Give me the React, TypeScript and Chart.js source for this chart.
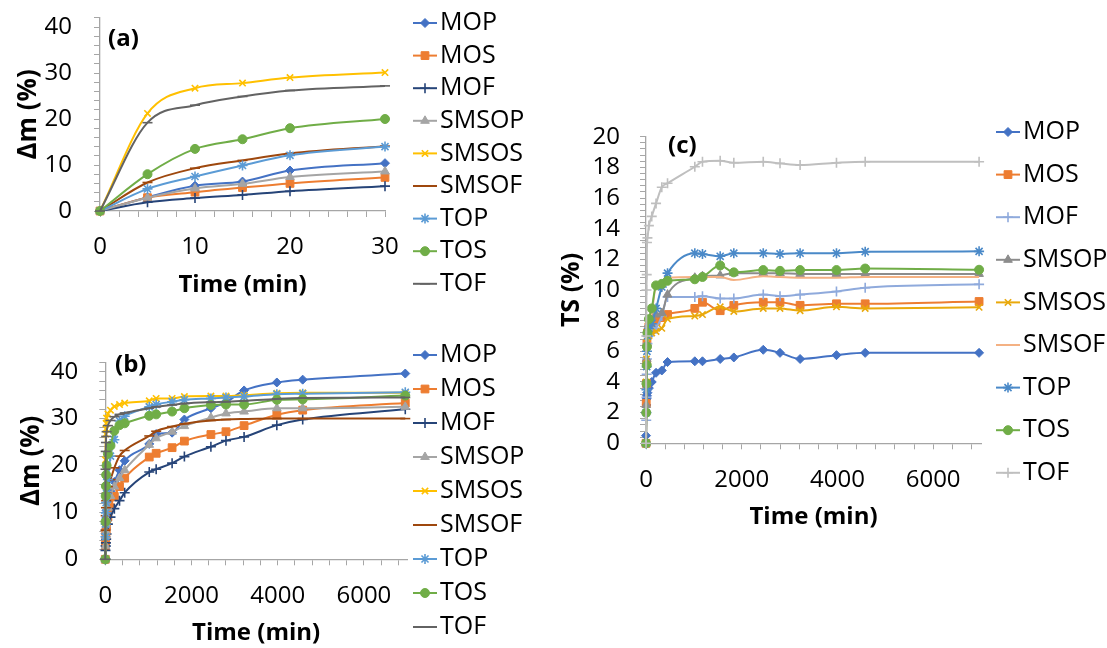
import React, { useEffect, useRef } from 'react';
import { Chart, registerables } from 'chart.js';
import { drawPoint } from 'chart.js/helpers';

Chart.register(...registerables);
Chart.defaults.font.family = '"Open Sans", sans-serif';

// ---------------- DATA ----------------
const seriesNames = ['MOP', 'MOS', 'MOF', 'SMSOP', 'SMSOS', 'SMSOF', 'TOP', 'TOS', 'TOF'];

// sampling times (min)
const timeMin = [0, 5, 10, 15, 20, 30, 60, 120, 210, 330, 450, 1020, 1180, 1550, 1835, 2450, 2800, 3220, 3980, 4580, 6960];

// mass change Δm (%) – panels (a) and (b)
const dmMOP = [0, 3.0, 5.5, 6.4, 8.8, 10.4, 12.5, 14.5, 16.5, 19.0, 21.0, 24.6, 26.7, 27.0, 29.8, 32.2, 33.5, 36.0, 37.7, 38.3, 39.6];
const dmMOS = [0, 2.9, 4.1, 5.1, 6.0, 7.3, 9.0, 11.0, 13.4, 15.5, 17.3, 21.8, 22.6, 23.8, 25.2, 26.6, 27.2, 28.5, 30.8, 31.8, 33.3];
const dmMOF = [0, 1.9, 2.8, 3.5, 4.3, 5.4, 7.5, 9.0, 10.8, 12.5, 14.2, 18.6, 19.2, 20.5, 21.9, 24.0, 25.3, 26.1, 28.6, 29.8, 32.0];
const dmSMSOP = [0, 2.9, 4.9, 5.9, 7.4, 8.6, 11.0, 13.5, 15.5, 17.3, 19.0, 24.4, 25.8, 27.2, 28.4, 30.2, 31.1, 31.5, 32.2, 32.2, 32.5];
const dmSMSOS = [0, 21.2, 26.7, 27.8, 29.0, 30.1, 31.0, 31.8, 32.6, 33.0, 33.3, 33.8, 34.3, 34.3, 34.7, 34.8, 34.8, 35.0, 35.4, 35.5, 35.5];
const dmSMSOF = [0, 6.2, 9.3, 11.0, 12.5, 14.1, 15.5, 17.0, 19.5, 22.0, 23.2, 26.3, 27.3, 28.3, 28.9, 29.6, 29.8, 29.9, 30.0, 30.0, 30.0];
const dmTOP = [0, 4.8, 7.5, 9.9, 12.1, 14.0, 17.0, 22.0, 25.5, 29.5, 30.5, 32.5, 33.0, 33.6, 34.0, 34.3, 34.5, 34.7, 35.2, 35.3, 35.6];
const dmTOS = [0, 8.0, 13.5, 15.6, 18.0, 20.0, 22.5, 24.2, 27.4, 28.6, 29.0, 30.6, 30.9, 31.5, 32.2, 32.9, 33.0, 33.0, 34.0, 34.1, 34.9];
const dmTOF = [0, 19.2, 23.0, 24.9, 26.2, 27.2, 28.5, 29.6, 30.4, 30.9, 31.2, 32.2, 32.5, 32.9, 33.2, 33.5, 33.6, 33.8, 34.2, 34.4, 34.5];

// thickness swelling TS (%) – panel (c)
const tsMOP = [0.5, 2.0, 2.5, 2.9, 3.1, 3.3, 3.6, 4.0, 4.6, 4.75, 5.3, 5.35, 5.35, 5.5, 5.6, 6.1, 5.9, 5.5, 5.75, 5.9, 5.9];
const tsMOS = [0, 2.6, 3.9, 5.2, 6.5, 7.2, 7.6, 7.9, 8.0, 8.2, 8.4, 8.8, 9.2, 8.65, 9.0, 9.2, 9.2, 9.0, 9.1, 9.1, 9.25];
const tsMOF = [0, 1.5, 3.0, 4.5, 5.5, 6.5, 7.0, 7.2, 7.5, 8.3, 9.55, 9.55, 9.6, 9.45, 9.45, 9.7, 9.6, 9.7, 9.9, 10.15, 10.37];
const tsSMSOP = [0, 2.5, 4.0, 5.5, 6.5, 7.2, 7.8, 8.2, 8.4, 8.5, 9.7, 10.8, 10.9, 10.95, 11.1, 11.1, 11.1, 11.05, 11.05, 11.05, 11.05];
const tsSMSOS = [0, 4.0, 5.5, 6.2, 6.6, 6.9, 7.0, 7.2, 7.3, 7.5, 8.1, 8.3, 8.4, 8.9, 8.6, 8.8, 8.8, 8.65, 8.9, 8.8, 8.87];
const tsSMSOF = [0, 1.5, 3.5, 5.0, 6.0, 6.8, 7.8, 8.5, 10.2, 10.0, 10.8, 10.85, 10.85, 10.85, 10.65, 10.9, 10.85, 10.8, 10.8, 10.85, 10.85];
const tsTOP = [0, 2.0, 3.5, 5.0, 6.0, 7.0, 7.5, 7.8, 8.8, 10.2, 11.1, 12.4, 12.35, 12.2, 12.4, 12.4, 12.35, 12.4, 12.4, 12.5, 12.52];
const tsTOS = [0, 2.0, 3.9, 5.1, 6.3, 7.2, 8.1, 8.8, 10.3, 10.4, 10.6, 10.7, 10.85, 11.6, 11.15, 11.3, 11.25, 11.3, 11.3, 11.4, 11.32];
const tsTOF = [0, 7.0, 10.0, 11.0, 13.1, 13.4, 14.2, 14.8, 15.65, 16.7, 16.96, 18.04, 18.37, 18.43, 18.3, 18.37, 18.26, 18.15, 18.3, 18.37, 18.37];

const dmSeries = [dmMOP, dmMOS, dmMOF, dmSMSOP, dmSMSOS, dmSMSOF, dmTOP, dmTOS, dmTOF];
const tsSeries = [tsMOP, tsMOS, tsMOF, tsSMSOP, tsSMSOS, tsSMSOF, tsTOP, tsTOS, tsTOF];

// ---------------- STYLES ----------------
const dmColors = ['#4472C4', '#ED7D31', '#264478', '#A5A5A5', '#FFC000', '#9E480E', '#5B9BD5', '#70AD47', '#636363'];
const tsColors = ['#4472C4', '#ED7D31', '#8FAADC', '#8C8C8C', '#E9A90C', '#F4B183', '#4A89C8', '#70AD47', '#BFBFBF'];
const dmMarkers = ['rectRot', 'rect', 'cross', 'triangle', 'crossRot', 'line', 'star', 'circle', 'line'];
const tsMarkers = ['rectRot', 'rect', 'cross', 'triangle', 'crossRot', 'none', 'star', 'circle', 'cross'];
const markerRadius: Record<string, number> = {
  rectRot: 4.5, rect: 5.5, cross: 5, triangle: 5, crossRot: 4.5, line: 5, star: 5, circle: 4.5, none: 0,
};
const strokeOnly = ['cross', 'crossRot', 'line', 'star'];
const AXIS_GRAY = '#A6A6A6';

type PanelSpec = {
  left: number; top: number; width: number; height: number;
  pad: { left: number; top: number; right: number; bottom: number };
  yWidth: number; xHeight: number;
  xMax: number; xStep: number; xMajor: number;
  yMax: number; yStep: number; yMajor: number;
  yTitle: string; yTitleSize: number; yTitlePad: number; yTickPad: number; xTitlePad: number; xTickPad: number;
  series: number[][]; colors: string[]; markers: string[];
  legend: { x: number; y0: number; dy: number };
  tag: { text: string; x: number; y: number };
};

const panels: PanelSpec[] = [
  {
    left: 0, top: 0, width: 560, height: 310,
    pad: { left: 0, top: 17.8, right: 175, bottom: 0 },
    yWidth: 100, xHeight: 99,
    xMax: 30, xStep: 2, xMajor: 10,
    yMax: 42, yStep: 2, yMajor: 10,
    yTitle: 'Δm (%)', yTitleSize: 26, yTitlePad: 13, yTickPad: 22, xTitlePad: 10, xTickPad: 16,
    series: dmSeries, colors: dmColors, markers: dmMarkers,
    legend: { x: 413, y0: 23, dy: 32.6 },
    tag: { text: '(a)', x: 108, y: 39 },
  },
  {
    left: 0, top: 320, width: 560, height: 328,
    pad: { left: 0, top: 42.3, right: 153, bottom: 0 },
    yWidth: 105.3, xHeight: 88.7,
    xMax: 7000, xStep: 400, xMajor: 2000,
    yMax: 42, yStep: 2, yMajor: 10,
    yTitle: 'Δm (%)', yTitleSize: 26, yTitlePad: 15.5, yTickPad: 21, xTitlePad: 0, xTickPad: 16,
    series: dmSeries, colors: dmColors, markers: dmMarkers,
    legend: { x: 413, y0: 35, dy: 34 },
    tag: { text: '(b)', x: 115, y: 45 },
  },
  {
    left: 540, top: 100, width: 567, height: 440,
    pad: { left: 0, top: 36.7, right: 126, bottom: 0 },
    yWidth: 106, xHeight: 96.7,
    xMax: 7000, xStep: 400, xMajor: 2000,
    yMax: 20, yStep: 0.4, yMajor: 2,
    yTitle: 'TS (%)', yTitleSize: 25, yTitlePad: 17, yTickPad: 20, xTitlePad: 8.6, xTickPad: 16,
    series: tsSeries, colors: tsColors, markers: tsMarkers,
    legend: { x: 456, y0: 32, dy: 42.6 },
    tag: { text: '(c)', x: 128, y: 46 },
  },
];

const isMajor = (v: number, major: number) => Math.abs(v / major - Math.round(v / major)) < 1e-6;

function overlayPlugin(p: PanelSpec) {
  return {
    id: 'excelOverlay',
    afterDraw(chart: any) {
      const ctx: CanvasRenderingContext2D = chart.ctx;
      ctx.save();
      // panel tag
      ctx.fillStyle = '#000';
      ctx.font = 'bold 24px "Open Sans", sans-serif';
      ctx.textBaseline = 'middle';
      ctx.textAlign = 'left';
      ctx.fillText(p.tag.text, p.tag.x, p.tag.y);
      // legend
      chart.data.datasets.forEach((ds: any, i: number) => {
        const y = p.legend.y0 + i * p.legend.dy;
        const x = p.legend.x;
        ctx.strokeStyle = ds.borderColor;
        ctx.lineWidth = 2;
        ctx.beginPath();
        ctx.moveTo(x, y);
        ctx.lineTo(x + 24, y);
        ctx.stroke();
        if (ds.pointRadius > 0) {
          ctx.fillStyle = ds.pointBackgroundColor;
          ctx.strokeStyle = ds.pointBorderColor;
          ctx.lineWidth = ds.pointBorderWidth;
          drawPoint(ctx, { pointStyle: ds.pointStyle, radius: ds.pointRadius, borderWidth: ds.pointBorderWidth, rotation: 0 } as any, x + 12, y);
        }
        ctx.fillStyle = '#000';
        ctx.font = '25px "Open Sans", sans-serif';
        ctx.textBaseline = 'middle';
        ctx.textAlign = 'left';
        ctx.fillText(ds.label, x + 27, y);
      });
      ctx.restore();
    },
  };
}

function buildConfig(p: PanelSpec): any {
  const n = seriesNames.length;
  const datasets = seriesNames.map((name, i) => {
    const m = p.markers[i];
    const c = p.colors[i];
    const pts = timeMin
      .map((t, k) => ({ x: t, y: p.series[i][k] }))
      .filter((pt) => pt.x <= p.xMax);
    return {
      label: name,
      data: pts,
      borderColor: c,
      backgroundColor: c,
      borderWidth: 2,
      pointStyle: m === 'none' ? 'circle' : m,
      pointRadius: markerRadius[m],
      pointBackgroundColor: c,
      pointBorderColor: c,
      pointBorderWidth: strokeOnly.includes(m) ? 1.6 : 1,
      cubicInterpolationMode: 'monotone',
      clip: false,
      order: n - i,
    };
  });
  const tickFont = { size: 24 };
  return {
    type: 'line',
    data: { datasets },
    options: {
      responsive: false,
      maintainAspectRatio: false,
      animation: false,
      events: [],
      layout: { padding: p.pad },
      plugins: { legend: { display: false }, tooltip: { enabled: false }, title: { display: false } },
      scales: {
        x: {
          type: 'linear',
          min: 0,
          max: p.xMax,
          ticks: {
            stepSize: p.xStep,
            includeBounds: false,
            autoSkip: false,
            maxRotation: 0,
            minRotation: 0,
            padding: p.xTickPad,
            color: '#000',
            font: tickFont,
            callback: (v: number) => (isMajor(v, p.xMajor) ? String(v) : ''),
          },
          grid: { drawOnChartArea: false, drawTicks: true, tickLength: 6, color: AXIS_GRAY, lineWidth: 1 },
          border: { display: true, color: AXIS_GRAY, width: 1.3 },
          title: { display: true, text: 'Time (min)', color: '#000', font: { size: 24, weight: 'bold' }, padding: { top: 0, bottom: p.xTitlePad } },
          afterFit: (s: any) => {
            s.height = p.xHeight;
            s.paddingLeft = 0;
            s.paddingRight = 0;
          },
        },
        y: {
          type: 'linear',
          min: 0,
          max: p.yMax,
          ticks: {
            stepSize: p.yStep,
            autoSkip: false,
            padding: p.yTickPad,
            color: '#000',
            font: tickFont,
            callback: (v: number) => (isMajor(v, p.yMajor) ? String(Math.round(v)) : ''),
          },
          grid: { drawOnChartArea: false, drawTicks: true, tickLength: 6, color: AXIS_GRAY, lineWidth: 1 },
          border: { display: true, color: AXIS_GRAY, width: 1.3 },
          title: { display: true, text: p.yTitle, color: '#000', font: { size: p.yTitleSize, weight: 'bold' }, padding: { top: p.yTitlePad, bottom: 0 } },
          afterFit: (s: any) => {
            s.width = p.yWidth;
            s.paddingTop = 0;
            s.paddingBottom = 0;
          },
        },
      },
    },
    plugins: [overlayPlugin(p)],
  };
}

function PanelChart({ p }: { p: PanelSpec }) {
  const ref = useRef<HTMLCanvasElement>(null);
  useEffect(() => {
    const chart = new Chart(ref.current as HTMLCanvasElement, buildConfig(p));
    return () => chart.destroy();
  }, [p]);
  return (
    <canvas
      ref={ref}
      width={p.width}
      height={p.height}
      style={{ position: 'absolute', left: p.left, top: p.top, width: p.width, height: p.height }}
    />
  );
}

export default function App() {
  return (
    <div style={{ position: 'absolute', left: 0, top: 0, width: 1107, height: 648, background: '#fff', overflow: 'hidden' }}>
      {panels.map((p, i) => (
        <PanelChart key={i} p={p} />
      ))}
    </div>
  );
}
